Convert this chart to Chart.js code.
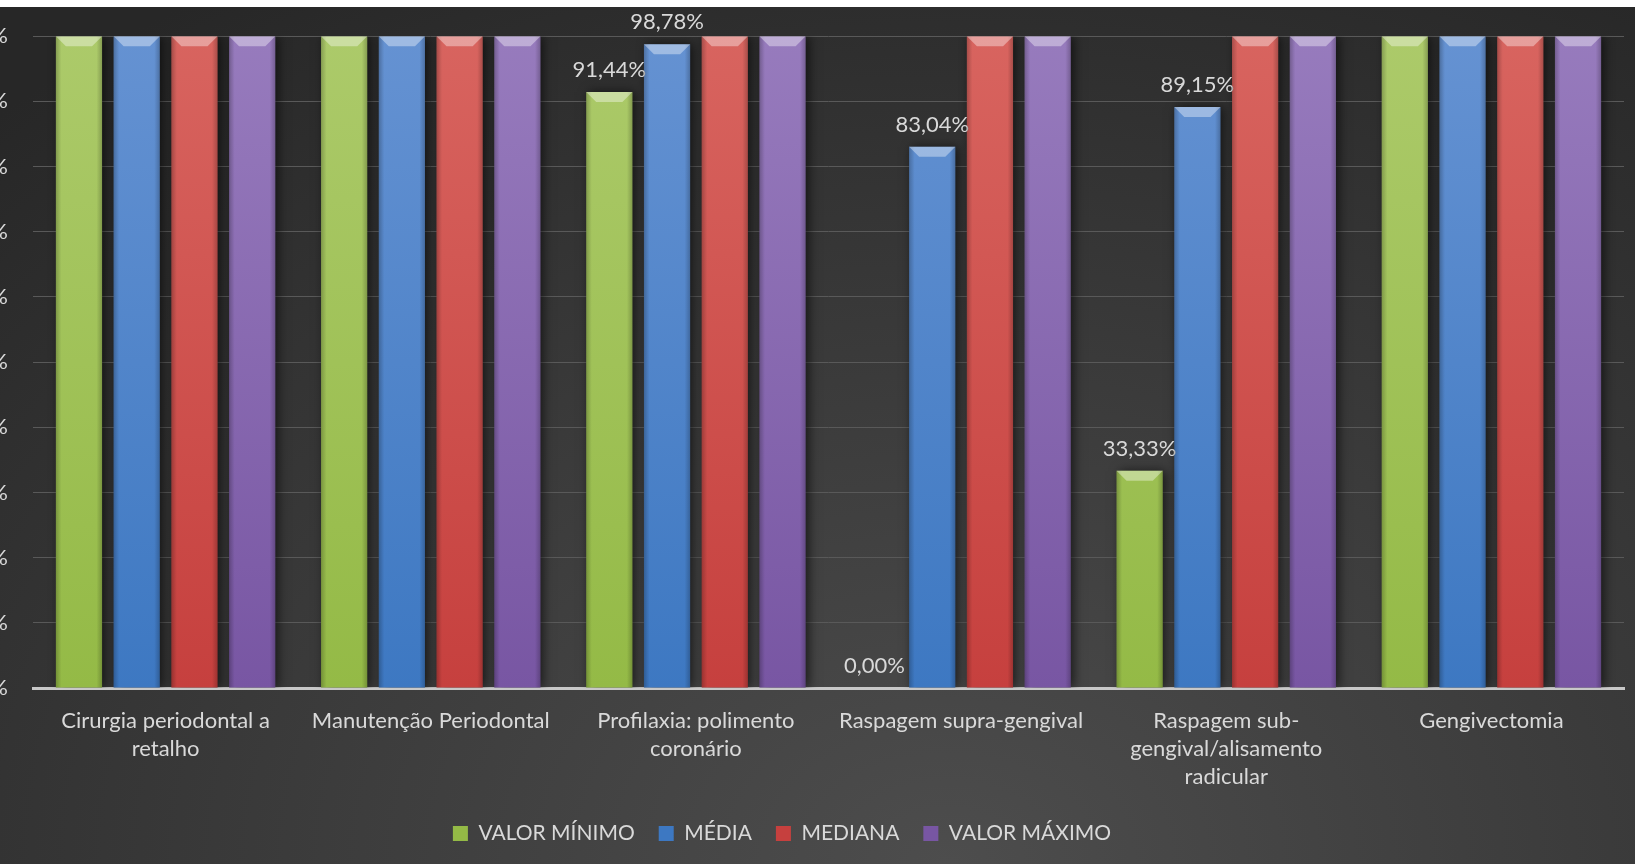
<!DOCTYPE html>
<html lang="pt">
<head>
<meta charset="utf-8">
<title>Procedimentos periodontais</title>
<script src="https://cdn.jsdelivr.net/npm/chart.js@4.4.0/dist/chart.umd.min.js"></script>
<style>
    html, body { margin: 0; padding: 0; background: #fff; overflow: hidden; }
    .moldura {
        position: absolute; top: 7px; left: 0; width: 1635px; height: 857px; overflow: hidden;
        background: radial-gradient(ellipse 85% 120% at 58% 100%, #4d4d4d 0%, #3c3c3c 45%, #272727 100%);
    }
    .grafico { position: absolute; top: -9px; left: -60px; width: 1695px; height: 866px; }
</style>
</head>
<body>
<div class="moldura">
    <div class="grafico"><canvas id="graficoProcedimentos"></canvas></div>
</div>
<script>
// dados
const categorias = [
    ['Cirurgia periodontal a', 'retalho'],
    'Manutenção Periodontal',
    ['Profilaxia: polimento', 'coronário'],
    'Raspagem supra-gengival',
    ['Raspagem sub-', 'gengival/alisamento', 'radicular'],
    'Gengivectomia'
];
const nomesSeries = ['VALOR MÍNIMO', 'MÉDIA', 'MEDIANA', 'VALOR MÁXIMO'];
const valorMinimo = [100, 100, 91.44, 0, 33.33, 100];
const media       = [100, 100, 98.78, 83.04, 89.15, 100];
const mediana     = [100, 100, 100, 100, 100, 100];
const valorMaximo = [100, 100, 100, 100, 100, 100];
const ticksY = [0, 10, 20, 30, 40, 50, 60, 70, 80, 90, 100];

// cores (topo, base) no estilo Office
const cores = [
    ['#acca6a', '#94ba46'],
    ['#6592d2', '#3d78c2'],
    ['#d8645f', '#c6403e'],
    ['#977bbd', '#7856a3']
];
const corTexto = '#d9d9d9';
const fonte = 'Lato';

function gradiente(par) {
    return function(context) {
        const chart = context.chart;
        const area = chart.chartArea;
        if (!area) return par[1];
        const g = chart.ctx.createLinearGradient(0, area.top, 0, area.bottom);
        g.addColorStop(0, par[0]);
        g.addColorStop(1, par[1]);
        return g;
    };
}

function formatarPct(v) {
    return v.toFixed(2).replace('.', ',') + '%';
}

// sombra, chanfro do topo e rótulos das barras
const efeitosBarras = {
    id: 'efeitosBarras',
    beforeDatasetsDraw(chart) {
        const c = chart.ctx;
        c.save();
        c.shadowColor = 'rgba(0, 0, 0, 0.6)';
        c.shadowBlur = 10;
        c.shadowOffsetX = 3;
    },
    afterDatasetsDraw(chart) {
        const c = chart.ctx;
        c.restore();
        c.save();
        chart.data.datasets.forEach((ds, i) => {
            const meta = chart.getDatasetMeta(i);
            meta.data.forEach((bar, j) => {
                const p = bar.getProps(['x', 'y', 'base', 'width'], true);
                const esq = p.x - p.width / 2;
                const dir = p.x + p.width / 2;
                const alt = p.base - p.y;
                if (alt > 2) {
                    // bordas laterais levemente escuras
                    const gh = c.createLinearGradient(esq, 0, dir, 0);
                    gh.addColorStop(0, 'rgba(0,0,0,0.22)');
                    gh.addColorStop(0.12, 'rgba(0,0,0,0)');
                    gh.addColorStop(0.88, 'rgba(0,0,0,0)');
                    gh.addColorStop(1, 'rgba(0,0,0,0.22)');
                    c.fillStyle = gh;
                    c.fillRect(esq, p.y, p.width, alt);
                    // chanfro claro no topo
                    const b = Math.min(10, alt);
                    c.beginPath();
                    c.moveTo(esq, p.y);
                    c.lineTo(dir, p.y);
                    c.lineTo(dir - b, p.y + b);
                    c.lineTo(esq + b, p.y + b);
                    c.closePath();
                    c.fillStyle = 'rgba(255,255,255,0.38)';
                    c.fill();
                }
                const v = ds.data[j];
                if (v < 100) {
                    c.font = '22px ' + fonte;
                    c.fillStyle = corTexto;
                    c.textAlign = 'center';
                    c.textBaseline = 'alphabetic';
                    c.fillText(formatarPct(v), p.x, p.y - 15);
                }
            });
        });
        c.restore();
    }
};

const series = [valorMinimo, media, mediana, valorMaximo];

new Chart(document.getElementById('graficoProcedimentos'), {
    type: 'bar',
    data: {
        labels: categorias,
        datasets: series.map((valores, i) => ({
            label: nomesSeries[i],
            data: valores,
            backgroundColor: gradiente(cores[i]),
            borderWidth: 0,
            categoryPercentage: 0.871,
            barPercentage: 0.8
        }))
    },
    options: {
        responsive: true,
        maintainAspectRatio: false,
        animation: false,
        layout: { padding: { top: 20, right: 11, left: 0, bottom: 10 } },
        scales: {
            x: {
                grid: { display: false },
                border: { display: true, color: '#c8c8c8', width: 3, dash: [3, 2] },
                ticks: {
                    color: corTexto,
                    font: { family: fonte, size: 22, lineHeight: 1.27 },
                    padding: 11,
                    maxRotation: 0,
                    autoSkip: false
                },
                afterFit(scale) { scale.height = 111; }
            },
            y: {
                min: 0,
                max: 100,
                afterBuildTicks(scale) { scale.ticks = ticksY.map(v => ({ value: v })); },
                grid: { color: '#595959', lineWidth: 1, drawTicks: false },
                border: { display: false },
                ticks: {
                    color: corTexto,
                    font: { family: fonte, size: 22 },
                    padding: 25,
                    callback: v => v + '%'
                },
                afterFit(scale) { scale.width = 93; }
            }
        },
        plugins: {
            legend: {
                position: 'bottom',
                labels: {
                    color: corTexto,
                    font: { family: fonte, size: 21 },
                    boxWidth: 15,
                    boxHeight: 15,
                    padding: 24
                }
            },
            tooltip: { enabled: false }
        }
    },
    plugins: [efeitosBarras]
});
</script>
</body>
</html>
